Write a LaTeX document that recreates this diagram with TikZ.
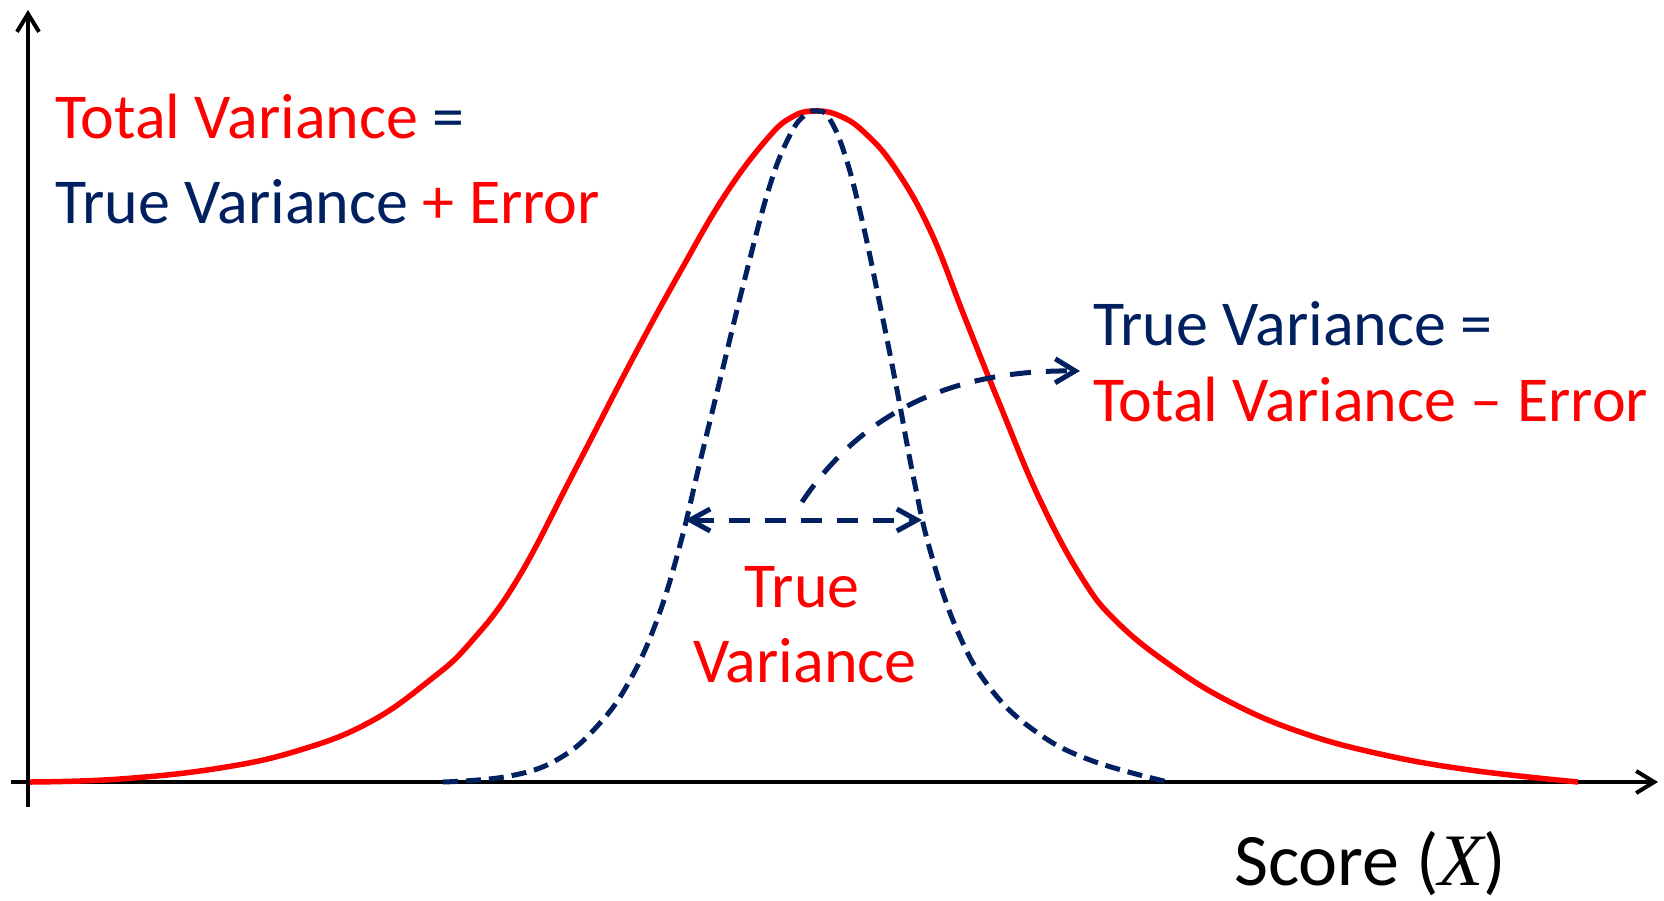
\documentclass[tikz,border=0pt]{standalone}
\usepackage{fontspec}
\setmainfont{Carlito}
\newfontfamily\xserif{Liberation Serif}
\usetikzlibrary{arrows.meta}
\definecolor{tred}{RGB}{255,0,0}
\definecolor{tnavy}{HTML}{002060}
\tikzset{
  axisline/.style={line width=4pt, black, -{Straight Barb[length=18pt,width=22pt]}},
  totalcurve/.style={line width=5.5pt, tred},
  truecurve/.style={line width=5pt, tnavy, dash pattern=on 15pt off 8pt},
  truearrow/.style={line width=5pt, tnavy, dash pattern=on 21pt off 15pt},
  lbl/.style={inner sep=0pt, anchor=base west, font=\fontsize{64}{72}\selectfont},
  clbl/.style={inner sep=0pt, anchor=base, font=\fontsize{64}{72}\selectfont, text=tred},
}
\begin{document}
\begin{tikzpicture}[x=1pt,y=-1pt]
\useasboundingbox (0,0) rectangle (1664,900);
% axes
\coordinate (yb) at (28,807);
\coordinate (yt) at (28,10);
\coordinate (xl) at (11,782);
\coordinate (xr) at (1658,782);
\draw[axisline] (yb) -- (yt);
\draw[axisline] (xl) -- (xr);
% total curve
\draw[totalcurve, line join=round] plot[smooth, tension=0.7] coordinates {
 (30,782) (120,779) (220,768) (300,750) (370,722) (430,680)
 (470,643) (517,580) (575,470) (633,358) (680,272) (725,195) (767,139)
 (792,117) (815,111) (840,116) (865,133) (895,168) (930,230) (965,318)
 (1000,405) (1040,500) (1082,578) (1117,622) (1170,665) (1230,702)
 (1300,732) (1380,754) (1470,770) (1578,782)};
% true curve
\draw[truecurve] plot[smooth, tension=0.7] coordinates {
 (443,782) (510,776) (560,758) (600,723) (630,680) (657,620)
 (680,545) (700,462) (720,380) (745,278) (770,185) (790,135) (805,115) (817,111)
 (829,118) (845,155) (862,220) (880,305) (897,390) (913,475) (930,550)
 (957,630) (990,688) (1035,731) (1090,760) (1168,782)};
% double arrow
\coordinate (wl) at (685,520);
\coordinate (wr) at (922,520);
\draw[truearrow, {Straight Barb[length=20pt,width=22pt]}-{Straight Barb[length=20pt,width=22pt]}] (wl) -- (wr);
% curved arrow
\coordinate (cs) at (802,502);
\coordinate (ce) at (1080,371);
\draw[truearrow, -{Straight Barb[length=20pt,width=24pt]}] (cs) .. controls (870,400) and (970,370) .. (ce);
% texts
\node[lbl] (l1) at (55,138) {\textcolor{tred}{Total Variance} \textcolor{tnavy}{=}};
\node[lbl] (l2) at (55,223) {\textcolor{tnavy}{True Variance} \textcolor{tred}{+ Error}};
\node[lbl] (r1) at (1093,345) {\textcolor{tnavy}{True Variance =}};
\node[lbl] (r2) at (1093,421) {\textcolor{tred}{Total Variance – Error}};
\node[clbl] (c1) at (802,607) {True};
\node[clbl] (c2) at (805,682) {Variance};
\node[inner sep=0pt, anchor=base west, font=\fontsize{74}{80}\selectfont] (sc) at (1234,885) {Score ({\xserif\itshape X})};
\end{tikzpicture}
\end{document}
